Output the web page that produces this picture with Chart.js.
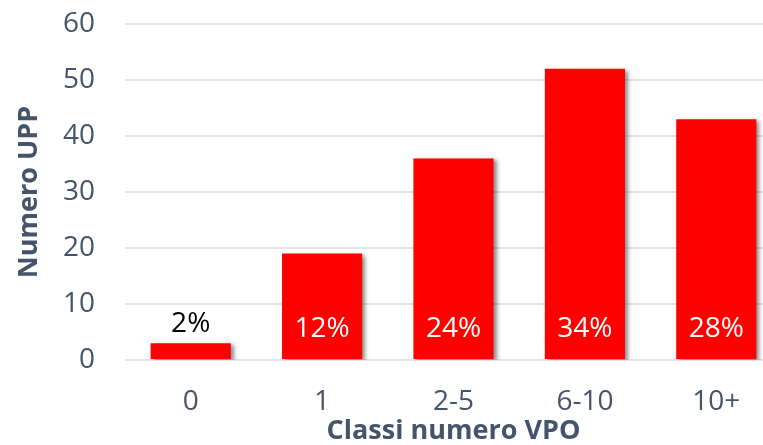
<!DOCTYPE html>
<html>
<head>
<meta charset="utf-8">
<script src="https://cdn.jsdelivr.net/npm/chart.js@4/dist/chart.umd.min.js"></script>
<style>
  html, body { margin: 0; padding: 0; background: #fff; overflow: hidden; }
  #wrap { width: 763px; height: 445px; overflow: hidden; position: relative; }
  #box { width: 790px; height: 445px; position: absolute; left: 0; top: 0; }
</style>
</head>
<body>
<div id="wrap"><div id="box"><canvas id="chart"></canvas></div></div>
<script>
// ═══ data ═══
const classes = ['0', '1', '2-5', '6-10', '10+'];
const upp = [3, 19, 36, 52, 43];
const shares = ['2%', '12%', '24%', '34%', '28%'];

const axisColor = '#44546A';
const font = 'Open Sans';

// drop shadow behind the bars
const barShadow = {
    id: 'barShadow',
    beforeDatasetDraw: function (chart) {
        const ctx = chart.ctx;
        ctx.save();
        ctx.shadowColor = 'rgba(0,0,0,0.45)';
        ctx.shadowBlur = 4;
        ctx.shadowOffsetX = 3;
        ctx.shadowOffsetY = 2;
    },
    afterDatasetDraw: function (chart) {
        chart.ctx.restore();
    }
};

// percentage labels: inside near the base, or above when the bar is too short
const shareLabels = {
    id: 'shareLabels',
    afterDatasetsDraw: function (chart) {
        const ctx = chart.ctx;
        const bars = chart.getDatasetMeta(0).data;
        ctx.save();
        ctx.font = '28px "' + font + '"';
        ctx.textAlign = 'center';
        ctx.textBaseline = 'middle';
        bars.forEach(function (bar, i) {
            const h = bar.base - bar.y;
            if (h < 40) {
                ctx.fillStyle = '#000';
                ctx.fillText(shares[i], bar.x, bar.y - 19);
            } else {
                ctx.fillStyle = '#fff';
                ctx.fillText(shares[i], bar.x, bar.base - 30);
            }
        });
        ctx.restore();
    }
};

new Chart(document.getElementById('chart'), {
    type: 'bar',
    data: {
        labels: classes,
        datasets: [{
            data: upp,
            backgroundColor: '#FF0000',
            borderWidth: 0,
            barPercentage: 0.61,
            categoryPercentage: 1
        }]
    },
    options: {
        responsive: true,
        maintainAspectRatio: false,
        animation: false,
        layout: { padding: { top: 24, right: 8, left: 0, bottom: 0 } },
        plugins: { legend: { display: false }, tooltip: { enabled: false } },
        scales: {
            y: {
                min: 0, max: 60,
                ticks: { stepSize: 10, color: axisColor, padding: 2, font: { family: font, size: 28 } },
                grid: { color: '#E1E4E8', lineWidth: 2, drawTicks: true, tickLength: 28, tickColor: 'rgba(0,0,0,0)' },
                border: { display: false },
                title: {
                    display: true, text: 'Numero UPP', color: axisColor,
                    font: { family: font, size: 27, weight: 'bold', lineHeight: 1 },
                    padding: { top: 16, bottom: 0 }
                },
                afterFit: function (s) { s.width = 125; }
            },
            x: {
                ticks: { color: axisColor, padding: 25, font: { family: font, size: 28 } },
                grid: { display: false, drawTicks: false },
                border: { display: false },
                title: {
                    display: true, text: 'Classi numero VPO', color: axisColor,
                    font: { family: font, size: 27, weight: 'bold', lineHeight: 1 },
                    padding: { top: 0, bottom: 0 }
                },
                afterFit: function (s) { s.height = 85; }
            }
        }
    },
    plugins: [barShadow, shareLabels]
});
</script>
</body>
</html>
